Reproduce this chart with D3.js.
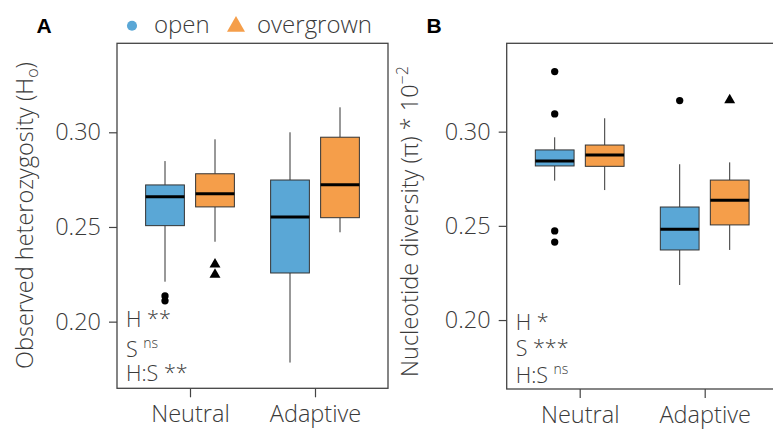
<!DOCTYPE html>
<html lang="en">
<head>
<meta charset="UTF-8">
<title>Observed heterozygosity and nucleotide diversity</title>
<style>
  body { margin: 0; background: #fff; }
  svg { font-family: 'Open Sans', sans-serif; font-weight: 300; }
  .tick text { font-family: 'Open Sans', sans-serif; font-weight: 300; font-size: 23.5px; fill: #3a3a3a; }
  .tick line { stroke: #444; }
  .domain { display: none; }
</style>
</head>
<body>
<div id="chart"></div>
<script src="https://d3js.org/d3.v7.min.js"></script>
<script>
const categories = ["Neutral", "Adaptive"];
const habitats = ["open", "overgrown"];
const habitatColors = ["#5aa7d6", "#f59e4a"];
const yTicks = [0.20, 0.25, 0.30];

// panel A: observed heterozygosity, box stats
const hoStats = [
  { group: "Neutral",  habitat: "open",      lo: 0.2211, q1: 0.2507, med: 0.2660, q3: 0.2722, hi: 0.2848, out: [0.2136, 0.2110] },
  { group: "Neutral",  habitat: "overgrown", lo: 0.2422, q1: 0.2606, med: 0.2676, q3: 0.2781, hi: 0.2963, out: [0.2303, 0.2248] },
  { group: "Adaptive", habitat: "open",      lo: 0.1784, q1: 0.2257, med: 0.2553, q3: 0.2748, hi: 0.3000, out: [] },
  { group: "Adaptive", habitat: "overgrown", lo: 0.2472, q1: 0.2549, med: 0.2723, q3: 0.2974, hi: 0.3132, out: [] }
];

// panel B: nucleotide diversity (pi * 10^-2)
const piStats = [
  { group: "Neutral",  habitat: "open",      lo: 0.2740, q1: 0.2818, med: 0.2844, q3: 0.2903, hi: 0.2970, out: [0.3319, 0.3094, 0.2473, 0.2414] },
  { group: "Neutral",  habitat: "overgrown", lo: 0.2690, q1: 0.2816, med: 0.2876, q3: 0.2929, hi: 0.3071, out: [] },
  { group: "Adaptive", habitat: "open",      lo: 0.2186, q1: 0.2372, med: 0.2482, q3: 0.2600, hi: 0.2827, out: [0.3165] },
  { group: "Adaptive", habitat: "overgrown", lo: 0.2372, q1: 0.2505, med: 0.2636, q3: 0.2743, hi: 0.2837, out: [0.3168] }
];

const hoTests = [["H", "**"], ["S", "ns"], ["H:S", "**"]];
const piTests = [["H", "*"], ["S", "***"], ["H:S", "ns"]];

const width = 773, height = 432;

const svg = d3.select("#chart").append("svg")
  .attr("width", width)
  .attr("height", height);

const color = d3.scaleOrdinal().domain(habitats).range(habitatColors);
const shape = d3.scaleOrdinal().domain(habitats).range([d3.symbolCircle, d3.symbolTriangle]);

function drawPanel(p) {
  const g = svg.append("g");

  const x = d3.scalePoint()
    .domain(categories)
    .range([p.left, p.right])
    .padding(0.584);
  const step = x.step();
  const dodge = d3.scalePoint().domain(habitats).range([-0.2 * step, 0.2 * step]);
  const boxW = 0.31 * step;

  const y = d3.scaleLinear().domain(p.yDomain).range([p.bottom, p.top]);

  // axes
  g.append("g")
    .attr("transform", `translate(${p.left},0)`)
    .call(d3.axisLeft(y).tickValues(yTicks).tickFormat(d3.format(".2f")).tickSize(8).tickPadding(8));

  g.append("g")
    .attr("transform", `translate(0,${p.bottom})`)
    .call(d3.axisBottom(x).tickSize(9).tickPadding(8));

  g.selectAll(".tick line").attr("stroke-width", 1.2);

  // boxes
  const boxes = g.selectAll(".box")
    .data(p.stats)
    .enter().append("g")
    .attr("class", "box")
    .attr("transform", d => `translate(${x(d.group) + dodge(d.habitat)},0)`);

  boxes.append("line")
    .attr("y1", d => y(d.hi)).attr("y2", d => y(d.q3))
    .attr("stroke", "#333").attr("stroke-width", 1);
  boxes.append("line")
    .attr("y1", d => y(d.q1)).attr("y2", d => y(d.lo))
    .attr("stroke", "#333").attr("stroke-width", 1);

  boxes.append("rect")
    .attr("x", -boxW / 2)
    .attr("width", boxW)
    .attr("y", d => y(d.q3))
    .attr("height", d => y(d.q1) - y(d.q3))
    .attr("fill", d => color(d.habitat))
    .attr("stroke", "#333")
    .attr("stroke-width", 1);

  boxes.append("line")
    .attr("x1", -boxW / 2).attr("x2", boxW / 2)
    .attr("y1", d => y(d.med)).attr("y2", d => y(d.med))
    .attr("stroke", "#000").attr("stroke-width", 3);

  // outliers
  boxes.each(function (d) {
    d3.select(this).selectAll("path")
      .data(d.out)
      .enter().append("path")
      .attr("d", d3.symbol().type(shape(d.habitat)).size(d.habitat === "open" ? 42 : 52))
      .attr("transform", v => `translate(0,${y(v)})`)
      .attr("fill", "#000");
  });

  // panel border
  g.append("rect")
    .attr("x", p.left).attr("y", p.top)
    .attr("width", p.right - p.left).attr("height", p.bottom - p.top)
    .attr("fill", "none").attr("stroke", "#444").attr("stroke-width", 1.3);

  // significance labels
  const tests = g.append("g").attr("fill", "#3a3a3a").style("font-size", "21.5px");
  p.tests.forEach((t, i) => {
    const txt = tests.append("text")
      .attr("x", p.left + 9)
      .attr("y", p.testY[i]);
    txt.append("tspan").text(t[0] + " ");
    if (t[1] === "ns") {
      txt.append("tspan").attr("dy", -9).style("font-size", "14px").text(t[1]);
    } else {
      txt.append("tspan").text(t[1]);
    }
  });

  // y title
  const title = g.append("text")
    .attr("transform", `translate(${p.titleX},${p.titleY}) rotate(-90)`)
    .attr("text-anchor", "middle")
    .attr("fill", "#3a3a3a")
    .style("font-size", "23.5px");
  p.title(title);

  // panel letter
  g.append("text")
    .attr("x", p.letterX).attr("y", 33)
    .style("font-family", "'Liberation Sans', Arial, sans-serif")
    .style("font-weight", 700)
    .style("font-size", "21px")
    .attr("fill", "#000")
    .text(p.letter);
}

drawPanel({
  left: 117, right: 388, top: 43.3, bottom: 388.3,
  yDomain: [0.1648, 0.347],
  stats: hoStats, tests: hoTests, testY: [326.5, 357, 381],
  titleX: 33, titleY: 215.5, letterX: 36.5, letter: "A",
  title: t => {
    t.append("tspan").text("Observed heterozygosity (H");
    t.append("tspan").attr("dy", 5).style("font-size", "16px").text("o");
    t.append("tspan").attr("dy", -5).text(")");
  }
});

drawPanel({
  left: 506.7, right: 777.7, top: 43.3, bottom: 389,
  yDomain: [0.1634, 0.3469],
  stats: piStats, tests: piTests, testY: [329.5, 356, 383],
  titleX: 418, titleY: 221.5, letterX: 426.5, letter: "B",
  title: t => {
    t.append("tspan").text("Nucleotide diversity (\u03C0) * 10");
    t.append("tspan").attr("dy", -10).style("font-size", "16px").text("\u22122");
  }
});

// legend
const legend = svg.append("g").attr("class", "legend");
const legendX = [132, 236];
const legendTextX = [154, 257];
habitats.forEach((h, i) => {
  legend.append("path")
    .attr("d", d3.symbol().type(shape(h)).size(i === 0 ? 80 : 140))
    .attr("transform", `translate(${legendX[i]},${i === 0 ? 25.7 : 26.5})`)
    .attr("fill", color(h));
  legend.append("text")
    .attr("x", legendTextX[i]).attr("y", 33.3)
    .attr("fill", "#3a3a3a")
    .style("font-size", "24px")
    .text(h);
});
</script>
</body>
</html>
